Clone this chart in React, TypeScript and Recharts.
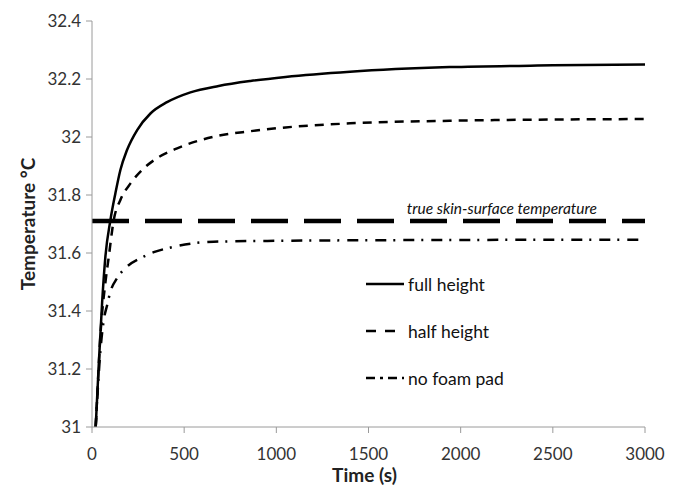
import React from 'react';
import { LineChart, Line, XAxis, YAxis, ReferenceLine, Legend } from 'recharts';

// Time axis (s) and temperature (°C)
const xTicks = [0, 500, 1000, 1500, 2000, 2500, 3000];
const yTicks = [31, 31.2, 31.4, 31.6, 31.8, 32, 32.2, 32.4];

const fullTime = [20, 37, 55, 73, 100, 127, 154, 190, 245, 317, 407, 534, 687, 860, 1050, 1400, 1940, 2500, 3000];
const fullTemp = [31.0, 31.22, 31.43, 31.59, 31.714, 31.806, 31.886, 31.955, 32.024, 32.081, 32.12, 32.154, 32.176, 32.193, 32.207, 32.225, 32.241, 32.247, 32.25];

const halfTime = [20, 28, 46, 73, 91, 118, 154, 209, 281, 353, 462, 660, 860, 1050, 1400, 1940, 3000];
const halfTemp = [31.0, 31.1, 31.32, 31.5, 31.587, 31.714, 31.783, 31.84, 31.892, 31.927, 31.961, 32.001, 32.02, 32.033, 32.047, 32.056, 32.062];

const foamTime = [20, 46, 64, 82, 100, 136, 190, 263, 335, 407, 660, 1000, 1500, 3000];
const foamTemp = [31.0, 31.266, 31.369, 31.42, 31.467, 31.513, 31.553, 31.582, 31.603, 31.616, 31.639, 31.642, 31.644, 31.646];

const skinTemp = 31.71;

const toPoints = (ts: number[], vs: number[]) => ts.map((t, i) => ({ t, v: vs[i] }));

const series = [
  { name: 'full height', data: toPoints(fullTime, fullTemp), dash: undefined, key: undefined, width: 2.5 },
  { name: 'half height', data: toPoints(halfTime, halfTemp), dash: '9 7', key: '10 9', width: 2.5 },
  { name: 'no foam pad', data: toPoints(foamTime, foamTemp), dash: '11 7 2 8', key: '9 5 3 5', width: 2.5 },
];

const FONT = 'Lato, "Open Sans", sans-serif';

const renderLegend = () => (
  <svg width={160} height={130}>
    {series.map((s, i) => {
      const y = 12 + i * 47;
      return (
        <g key={s.name}>
          <line x1={0} x2={38} y1={y} y2={y} stroke="#000" strokeWidth={s.width} strokeDasharray={s.key} />
          <text x={42} y={y} dominantBaseline="central" fontSize={17.5} fontFamily={FONT} fill="#111">{s.name}</text>
        </g>
      );
    })}
  </svg>
);

const skinLabel = (props: any) => {
  const vb = props.viewBox;
  return (
    <text x={vb.x + vb.width - 48} y={vb.y - 7} textAnchor="end" fontSize={15.5}
      fontStyle="italic" fontFamily={FONT} fill="#111">true skin-surface temperature</text>
  );
};

const xLabel = (props: any) => {
  const vb = props.viewBox;
  return (
    <text x={vb.x + vb.width / 2 - 4} y={474} textAnchor="middle" dominantBaseline="central"
      fontSize={19} fontWeight="bold" fontFamily={FONT} fill="#222">Time (s)</text>
  );
};

const yLabel = () => (
  <text x={27} y={224} transform="rotate(-90, 27, 224)" textAnchor="middle" dominantBaseline="central"
    fontSize={19} fontWeight="bold" fontFamily={FONT} fill="#222">Temperature °C</text>
);

export default function App() {
  return (
    <div style={{ position: 'absolute', left: 0, top: 0, background: '#fff' }}>
      <LineChart width={678} height={485} margin={{ top: 21, right: 33, left: 32, bottom: 28 }}>
        <XAxis dataKey="t" type="number" domain={[0, 3000]} ticks={xTicks} allowDataOverflow
          stroke="#9a9a9a" tickSize={6} tickMargin={15} height={30}
          tick={{ fill: '#333', fontSize: 17, fontFamily: FONT }} label={xLabel} />
        <YAxis dataKey="v" type="number" domain={[31, 32.4]} ticks={yTicks} allowDataOverflow
          stroke="#9a9a9a" tickSize={6} tickMargin={5} width={60}
          tick={{ fill: '#333', fontSize: 17, fontFamily: FONT }} label={yLabel} />
        <ReferenceLine y={skinTemp} stroke="#000" strokeWidth={4.5} strokeDasharray="37 16" label={skinLabel} />
        {series.map((s) => (
          <Line key={s.name} data={s.data} dataKey="v" name={s.name} type="monotone" stroke="#000"
            strokeWidth={s.width} strokeDasharray={s.dash} dot={false} isAnimationActive={false} />
        ))}
        <Legend layout="vertical" align="center" verticalAlign="middle" content={renderLegend}
          wrapperStyle={{ position: 'absolute', left: 366, top: 272, width: 160 }} />
      </LineChart>
    </div>
  );
}
